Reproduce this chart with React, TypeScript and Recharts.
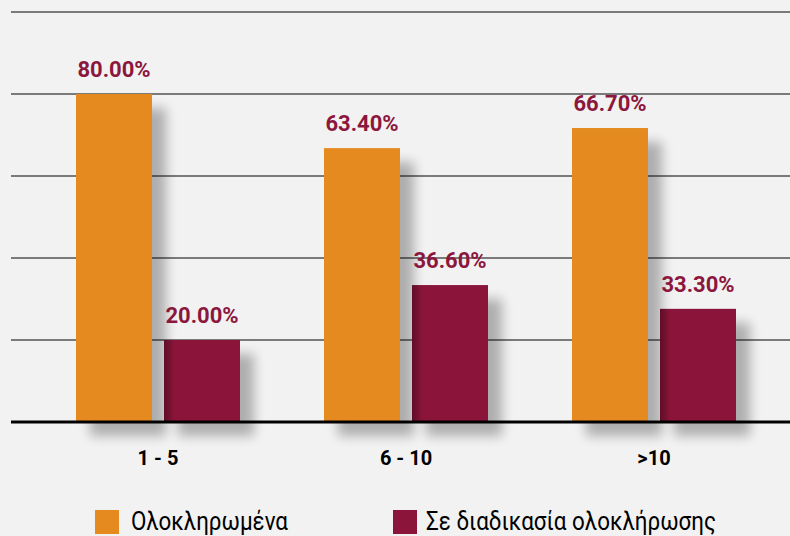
import React from 'react';
import { BarChart, Bar, XAxis, YAxis, CartesianGrid, LabelList, ReferenceLine } from 'recharts';

const categories = ['1 - 5', '6 - 10', '>10'];
// bar heights as drawn in the picture (percent of axis)
const completedBars = [80.0, 66.8, 71.7];
const inProgressBars = [20.0, 33.4, 27.6];
// value labels as printed
const completedLabels = ['80.00%', '63.40%', '66.70%'];
const inProgressLabels = ['20.00%', '36.60%', '33.30%'];
const seriesNames = ['Ολοκληρωμένα', 'Σε διαδικασία ολοκλήρωσης'];
const yTicks = [0, 20, 40, 60, 80, 100];

const data = categories.map((c, i) => ({
  cat: c,
  a: completedBars[i],
  b: inProgressBars[i],
  la: completedLabels[i],
  lb: inProgressLabels[i],
}));

const ORANGE = '#e48a1e';
const MAROON = '#8b153a';
const LABEL = '#8c173d';
const FONT = 'Roboto, "Noto Sans", sans-serif';

const ShadowBar = (props: any) => {
  const { x, y, width, height, fill } = props;
  if (width == null || height == null) return null;
  return (
    <g>
      <rect x={x + 14} y={y + 14} width={width} height={height} fill="#000" opacity={0.28} filter="url(#barBlur)" />
      <rect x={x} y={y} width={width} height={height} fill={fill} />
    </g>
  );
};

export default function App() {
  return (
    <div style={{ position: 'absolute', left: 0, top: 0, width: 790, height: 536, background: '#f2f2f2', overflow: 'hidden' }}>
      <BarChart width={790} height={536} data={data} margin={{ top: 12, right: 0, left: 11, bottom: 54 }} barSize={76} barGap={12}>
        <defs>
          <filter id="barBlur" x="-50%" y="-30%" width="200%" height="160%">
            <feGaussianBlur stdDeviation="6" />
          </filter>
          <linearGradient id="maroonGrad" x1="0" y1="0" x2="1" y2="0">
            <stop offset="0" stopColor="#5e0e27" />
            <stop offset="0.14" stopColor={MAROON} />
            <stop offset="1" stopColor={MAROON} />
          </linearGradient>
        </defs>
        <CartesianGrid vertical={false} stroke="#7a7a7a" strokeWidth={2} />
        <YAxis hide domain={[0, 100]} ticks={yTicks} />
        <XAxis
          dataKey="cat"
          height={60}
          padding={{ left: 23, right: 12 }}
          tickLine={false}
          axisLine={false}
          tickMargin={23}
          tick={{ fill: '#000', fontSize: 20, fontWeight: 700, fontFamily: FONT }}
        />
        <Bar dataKey="a" name={seriesNames[0]} fill={ORANGE} shape={<ShadowBar />} isAnimationActive={false}>
          <LabelList dataKey="la" position="top" offset={17} fill={LABEL} style={{ fontSize: 22, fontWeight: 700, fontFamily: FONT }} />
        </Bar>
        <Bar dataKey="b" name={seriesNames[1]} fill="url(#maroonGrad)" shape={<ShadowBar />} isAnimationActive={false}>
          <LabelList dataKey="lb" position="top" offset={17} fill={LABEL} style={{ fontSize: 22, fontWeight: 700, fontFamily: FONT }} />
        </Bar>
        <ReferenceLine y={0} stroke="#000" strokeWidth={3} />
      </BarChart>
      <svg width={790} height={536} style={{ position: 'absolute', left: 0, top: 0, pointerEvents: 'none' }}>
        <rect x={95} y={510} width={24} height={24} fill={ORANGE} />
        <text x={131} y={530} fontSize={25} fontFamily={FONT} fill="#000" textLength={157} lengthAdjust="spacingAndGlyphs">{seriesNames[0]}</text>
        <rect x={393} y={510} width={24} height={24} fill={MAROON} />
        <text x={426} y={530} fontSize={25} fontFamily={FONT} fill="#000" textLength={290} lengthAdjust="spacingAndGlyphs">{seriesNames[1]}</text>
      </svg>
    </div>
  );
}
